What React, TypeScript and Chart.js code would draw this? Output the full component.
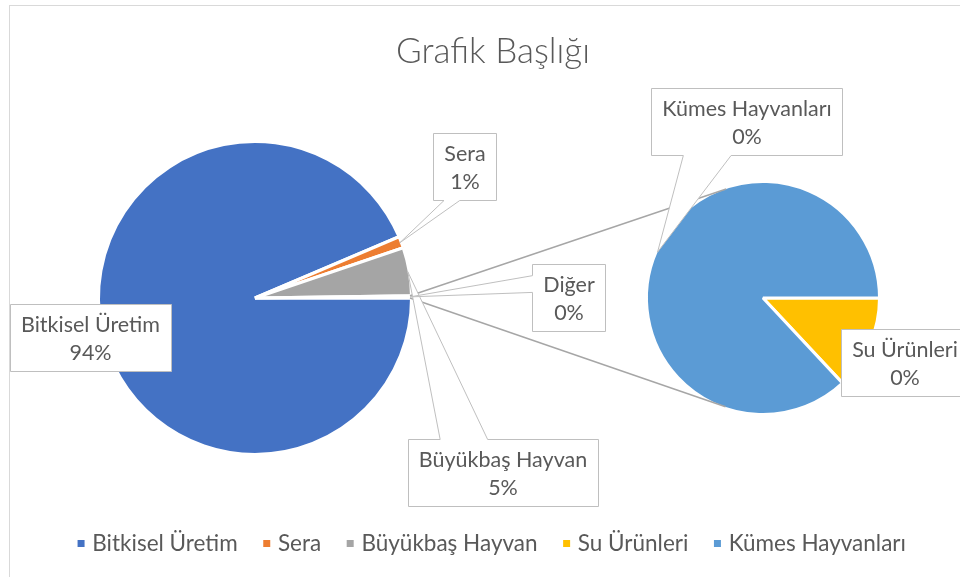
import React, { useEffect, useRef } from 'react';
import { Chart, registerables } from 'chart.js';

Chart.register(...registerables);

// ---------- data ----------
const TITLE = 'Grafik Başlığı';
const primaryLabels = ['Bitkisel Üretim', 'Sera', 'Büyükbaş Hayvan'];
const primaryMainValues = [93.6, 1.2, 4.97];
const OTHER_LABEL = 'Diğer';
const secondaryLabels = ['Su Ürünleri', 'Kümes Hayvanları'];
const secondaryValues = [0.03, 0.2];
const legendLabels = ['Bitkisel Üretim', 'Sera', 'Büyükbaş Hayvan', 'Su Ürünleri', 'Kümes Hayvanları'];

// ---------- styles / layout ----------
const primaryColors = ['#4472C4', '#ED7D31', '#A5A5A5', '#5B9BD5'];
const secondaryColors = ['#FFC000', '#5B9BD5'];
const legendColors = ['#4472C4', '#ED7D31', '#A5A5A5', '#FFC000', '#5B9BD5'];
const TEXT = '#595959';
const FONT = 'Lato';
const W = 960;
const H = 577;
const SLICE_BORDER = 3;
const PIE1 = { cx: 255, cy: 298, r: 155 };
const PIE2 = { cx: 763, cy: 298, r: 115 };
// label box centres relative to their pie centre
const primaryLabelOffsets = [[-164.5, 39.5], [210, -131.5], [248, 174.5], [314, -0.5]];
const secondaryLabelOffsets = [[142, 64.5], [-16, -176.5]];
const LABEL_SIZE = 21.5;
const LABEL_LINE = 28;
const LABEL_PADX = 11;
const LABEL_H = 67;
const LEGEND_SIZE = 22.5;

const otherValue = secondaryValues.reduce((a, b) => a + b, 0);
const primaryValues = [...primaryMainValues, otherValue];
const allPrimaryLabels = [...primaryLabels, OTHER_LABEL];
const total = primaryValues.reduce((a, b) => a + b, 0);
const pct = (v: number) => Math.round((v / total) * 100) + '%';

function padFor(cx: number, cy: number) {
  const hx = Math.min(cx, W - cx);
  const hy = Math.min(cy, H - cy);
  return { left: cx - hx, right: W - (cx + hx), top: cy - hy, bottom: H - (cy + hy) };
}

function pieConfig(labels: string[], values: number[], colors: string[], pie: { cx: number; cy: number; r: number }) {
  return {
    type: 'pie' as const,
    data: {
      labels,
      datasets: [
        {
          data: values,
          backgroundColor: colors,
          borderColor: '#FFFFFF',
          borderWidth: SLICE_BORDER,
          radius: pie.r + SLICE_BORDER / 2,
          hoverOffset: 0,
          clip: false as const,
        },
      ],
    },
    options: {
      responsive: false,
      animation: false as const,
      events: [],
      rotation: 90,
      layout: { padding: padFor(pie.cx, pie.cy) },
      plugins: { legend: { display: false }, title: { display: false }, tooltip: { enabled: false } },
    },
  };
}

function makeMarker(color: string) {
  const c = document.createElement('canvas');
  c.width = 16;
  c.height = 7;
  const g = c.getContext('2d')!;
  g.fillStyle = color;
  g.fillRect(5, 0, 7, 7);
  return c;
}

function drawCallout(ctx: CanvasRenderingContext2D, bx: number, by: number, w: number, h: number, tip: { x: number; y: number } | null) {
  const x = Math.round(bx) + 0.5;
  const y = Math.round(by) + 0.5;
  w = Math.round(w);
  h = Math.round(h);
  ctx.beginPath();
  let inside = true;
  if (tip) inside = tip.x >= x && tip.x <= x + w && tip.y >= y && tip.y <= y + h;
  if (!tip || inside) {
    ctx.rect(x, y, w, h);
  } else {
    const hc = x + w / 2;
    const vc = y + h / 2;
    const dxPos = tip.x - hc;
    const dyPos = tip.y - vc;
    const dx = (dxPos * h) / w;
    const horizontalEdge = Math.abs(dx) <= Math.abs(dyPos);
    if (horizontalEdge) {
      const x1 = x + (w * (dxPos > 0 ? 7 : 2)) / 12;
      const x2 = x + (w * (dxPos > 0 ? 10 : 5)) / 12;
      if (dyPos < 0) {
        ctx.moveTo(x, y);
        ctx.lineTo(x1, y);
        ctx.lineTo(tip.x, tip.y);
        ctx.lineTo(x2, y);
        ctx.lineTo(x + w, y);
        ctx.lineTo(x + w, y + h);
        ctx.lineTo(x, y + h);
      } else {
        ctx.moveTo(x, y);
        ctx.lineTo(x + w, y);
        ctx.lineTo(x + w, y + h);
        ctx.lineTo(x2, y + h);
        ctx.lineTo(tip.x, tip.y);
        ctx.lineTo(x1, y + h);
        ctx.lineTo(x, y + h);
      }
    } else {
      const y1 = y + (h * (dyPos > 0 ? 7 : 2)) / 12;
      const y2 = y + (h * (dyPos > 0 ? 10 : 5)) / 12;
      if (dxPos < 0) {
        ctx.moveTo(x, y);
        ctx.lineTo(x + w, y);
        ctx.lineTo(x + w, y + h);
        ctx.lineTo(x, y + h);
        ctx.lineTo(x, y2);
        ctx.lineTo(tip.x, tip.y);
        ctx.lineTo(x, y1);
      } else {
        ctx.moveTo(x, y);
        ctx.lineTo(x + w, y);
        ctx.lineTo(x + w, y1);
        ctx.lineTo(tip.x, tip.y);
        ctx.lineTo(x + w, y2);
        ctx.lineTo(x + w, y + h);
        ctx.lineTo(x, y + h);
      }
    }
    ctx.closePath();
  }
  ctx.fillStyle = '#FFFFFF';
  ctx.fill();
  ctx.strokeStyle = '#BFBFBF';
  ctx.lineWidth = 1;
  ctx.stroke();
}

function drawLabels(ctx: CanvasRenderingContext2D, arcs: any[], labels: string[], values: number[], offsets: number[][]) {
  arcs.forEach((arc: any, i: number) => {
    const { x, y, startAngle, endAngle, outerRadius } = arc.getProps(['x', 'y', 'startAngle', 'endAngle', 'outerRadius']);
    const r = outerRadius - SLICE_BORDER / 2;
    const mid = (startAngle + endAngle) / 2;
    const tip = { x: x + Math.cos(mid) * r, y: y + Math.sin(mid) * r };
    const lines = [labels[i], pct(values[i])];
    ctx.font = `${LABEL_SIZE}px ${FONT}`;
    const tw = Math.max(...lines.map((l) => ctx.measureText(l).width));
    const bw = tw + LABEL_PADX * 2;
    const cx = x + offsets[i][0];
    const cy = y + offsets[i][1];
    drawCallout(ctx, cx - bw / 2, cy - LABEL_H / 2, bw, LABEL_H, tip);
    ctx.fillStyle = TEXT;
    ctx.textAlign = 'center';
    ctx.textBaseline = 'middle';
    ctx.fillText(lines[0], cx, cy + 1.5 - LABEL_LINE / 2);
    ctx.fillText(lines[1], cx, cy + 1.5 + LABEL_LINE / 2);
  });
}

function overlayPlugin(cl: Chart, cr: Chart) {
  return {
    id: 'pieOfPieOverlay',
    beforeDraw(chart: Chart) {
      const ctx = chart.ctx;
      ctx.save();
      ctx.strokeStyle = '#D9D9D9';
      ctx.lineWidth = 1;
      ctx.strokeRect(9.5, 5.5, chart.width, chart.height);
      ctx.restore();
    },
    afterDraw(chart: Chart) {
      const ctx = chart.ctx;
      const a1 = cl.getDatasetMeta(0).data as any[];
      const a2 = cr.getDatasetMeta(0).data as any[];
      const other = a1[a1.length - 1].getProps(['x', 'y', 'startAngle', 'endAngle', 'outerRadius']);
      const sec = a2[0].getProps(['x', 'y', 'outerRadius']);
      const r1 = other.outerRadius - SLICE_BORDER / 2;
      const r2 = sec.outerRadius - SLICE_BORDER / 2;
      ctx.save();
      ctx.strokeStyle = '#A6A6A6';
      ctx.lineWidth = 1.4;
      [other.startAngle, other.endAngle].forEach((ang: number, i: number) => {
        const p = { x: other.x + Math.cos(ang) * r1, y: other.y + Math.sin(ang) * r1 };
        const dx = p.x - sec.x;
        const dy = p.y - sec.y;
        const d = Math.hypot(dx, dy);
        const phi = Math.atan2(dy, dx);
        const al = Math.acos(r2 / d);
        const t1 = { x: sec.x + r2 * Math.cos(phi + al), y: sec.y + r2 * Math.sin(phi + al) };
        const t2 = { x: sec.x + r2 * Math.cos(phi - al), y: sec.y + r2 * Math.sin(phi - al) };
        const t = i === 0 ? (t1.y < t2.y ? t1 : t2) : t1.y > t2.y ? t1 : t2;
        ctx.beginPath();
        ctx.moveTo(p.x, p.y);
        ctx.lineTo(t.x, t.y);
        ctx.stroke();
      });
      drawLabels(ctx, a1, allPrimaryLabels, primaryValues, primaryLabelOffsets);
      drawLabels(ctx, a2, secondaryLabels, secondaryValues, secondaryLabelOffsets);
      ctx.restore();
    },
  };
}

export default function App() {
  const refL = useRef<HTMLCanvasElement>(null);
  const refR = useRef<HTMLCanvasElement>(null);
  const refO = useRef<HTMLCanvasElement>(null);

  useEffect(() => {
    Chart.defaults.font.family = FONT;
    const cl = new Chart(refL.current!, pieConfig(allPrimaryLabels, primaryValues, primaryColors, PIE1) as any);
    const cr = new Chart(refR.current!, pieConfig(secondaryLabels, secondaryValues, secondaryColors, PIE2) as any);
    const markers = legendColors.map(makeMarker);
    const co = new Chart(refO.current!, {
      type: 'pie',
      data: { labels: legendLabels, datasets: [] },
      options: {
        responsive: false,
        animation: false,
        events: [],
        layout: { padding: { top: 21, left: 26, right: 0, bottom: 12.5 } },
        plugins: {
          tooltip: { enabled: false },
          title: {
            display: true,
            text: TITLE,
            color: TEXT,
            font: { family: FONT, size: 35, weight: '300' as any },
            padding: { top: 10, bottom: 10 },
          },
          legend: {
            display: true,
            position: 'bottom',
            align: 'center',
            labels: {
              usePointStyle: true,
              boxWidth: 1,
              padding: 28,
              color: TEXT,
              font: { family: FONT, size: LEGEND_SIZE },
              generateLabels: () =>
                legendLabels.map((text, i) => ({
                  text,
                  fillStyle: legendColors[i],
                  strokeStyle: legendColors[i],
                  lineWidth: 0,
                  pointStyle: markers[i] as any,
                  fontColor: TEXT,
                  hidden: false,
                  index: i,
                })),
            },
          },
        },
      },
      plugins: [overlayPlugin(cl, cr)],
    } as any);
    return () => {
      co.destroy();
      cr.destroy();
      cl.destroy();
    };
  }, []);

  const cs: React.CSSProperties = { position: 'absolute', left: 0, top: 0, width: W, height: H };
  return (
    <div style={{ position: 'fixed', left: 0, top: 0, width: W, height: H, background: '#FFFFFF', overflow: 'hidden' }}>
      <canvas ref={refL} width={W} height={H} style={cs} />
      <canvas ref={refR} width={W} height={H} style={cs} />
      <canvas ref={refO} width={W} height={H} style={cs} />
    </div>
  );
}
